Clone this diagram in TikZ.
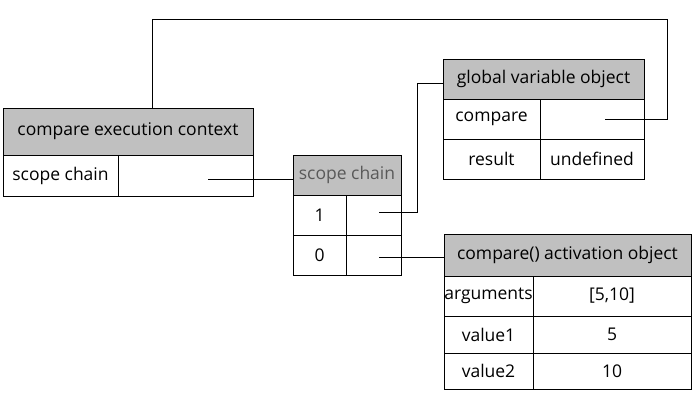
\documentclass[tikz,border=0pt]{standalone}
\usepackage{fontspec}
\setmainfont{Open Sans}
\definecolor{headgray}{RGB}{192,192,192}
\tikzset{
  cell/.style={draw=black, line width=0.9pt, anchor=north west, inner sep=0pt, outer sep=0pt,
    font=\fontsize{17.5}{21}\selectfont, text=black},
  head/.style={cell, fill=headgray},
  link/.style={draw=black, line width=0.9pt},
}
\begin{document}
\begin{tikzpicture}[x=1pt,y=-1pt]
\useasboundingbox (0,0) rectangle (696,402);
% execution context
\node[head, minimum width=250, minimum height=47] (ech) at (3,108) {compare execution context};
\node[cell, minimum width=115, minimum height=41] (ecl) at (3,155) {scope chain};
\node[cell, minimum width=135, minimum height=41] (ecv) at (118,155) {};
% scope chain
\node[head, minimum width=108, minimum height=40, text=black!65] (sch) at (293,155) {scope chain};
\node[cell, minimum width=53, minimum height=40] (s1l) at (293,195) {1};
\node[cell, minimum width=55, minimum height=40] (s1v) at (346,195) {};
\node[cell, minimum width=53, minimum height=40] (s0l) at (293,235) {0};
\node[cell, minimum width=55, minimum height=40] (s0v) at (346,235) {};
% global variable object
\node[head, minimum width=201, minimum height=40] (gh) at (443,59) {global variable object};
\node[cell, minimum width=97, minimum height=40] (gcl) at (443,99) {compare};
\node[cell, minimum width=104, minimum height=40] (gcv) at (540,99) {};
\node[cell, minimum width=97, minimum height=40] (grl) at (443,139) {result};
\node[cell, minimum width=104, minimum height=40] (grv) at (540,139) {undefined};
% activation object
\node[head, minimum width=247, minimum height=42] (ah) at (444,234) {compare() activation object};
\node[cell, minimum width=89, minimum height=40] (aal) at (444,276) {arguments};
\node[cell, minimum width=158, minimum height=40] (aav) at (533,276) {[5,10]};
\node[cell, minimum width=89, minimum height=37] (a1l) at (444,316) {value1};
\node[cell, minimum width=158, minimum height=37] (a1v) at (533,316) {5};
\node[cell, minimum width=89, minimum height=36] (a2l) at (444,353) {value2};
\node[cell, minimum width=158, minimum height=36] (a2v) at (533,353) {10};
% connector endpoints inside value cells
\coordinate (pe) at (208,179);
\coordinate (p1) at (379,212);
\coordinate (p0) at (379,257);
\coordinate (pg) at (605,119);
\coordinate (top) at (152,19);
\coordinate (rgt) at (667,19);
\coordinate (mid) at (417,83);
% connectors
\draw[link] (pg) -- (pg -| rgt) -- (rgt) -- (top) -- (ech.north -| top);
\draw[link] (pe) -- (pe -| sch.west);
\draw[link] (p1) -- (p1 -| mid) -- (mid) -- (mid -| gh.west);
\draw[link] (p0) -- (p0 -| ah.west);
\end{tikzpicture}
\end{document}
